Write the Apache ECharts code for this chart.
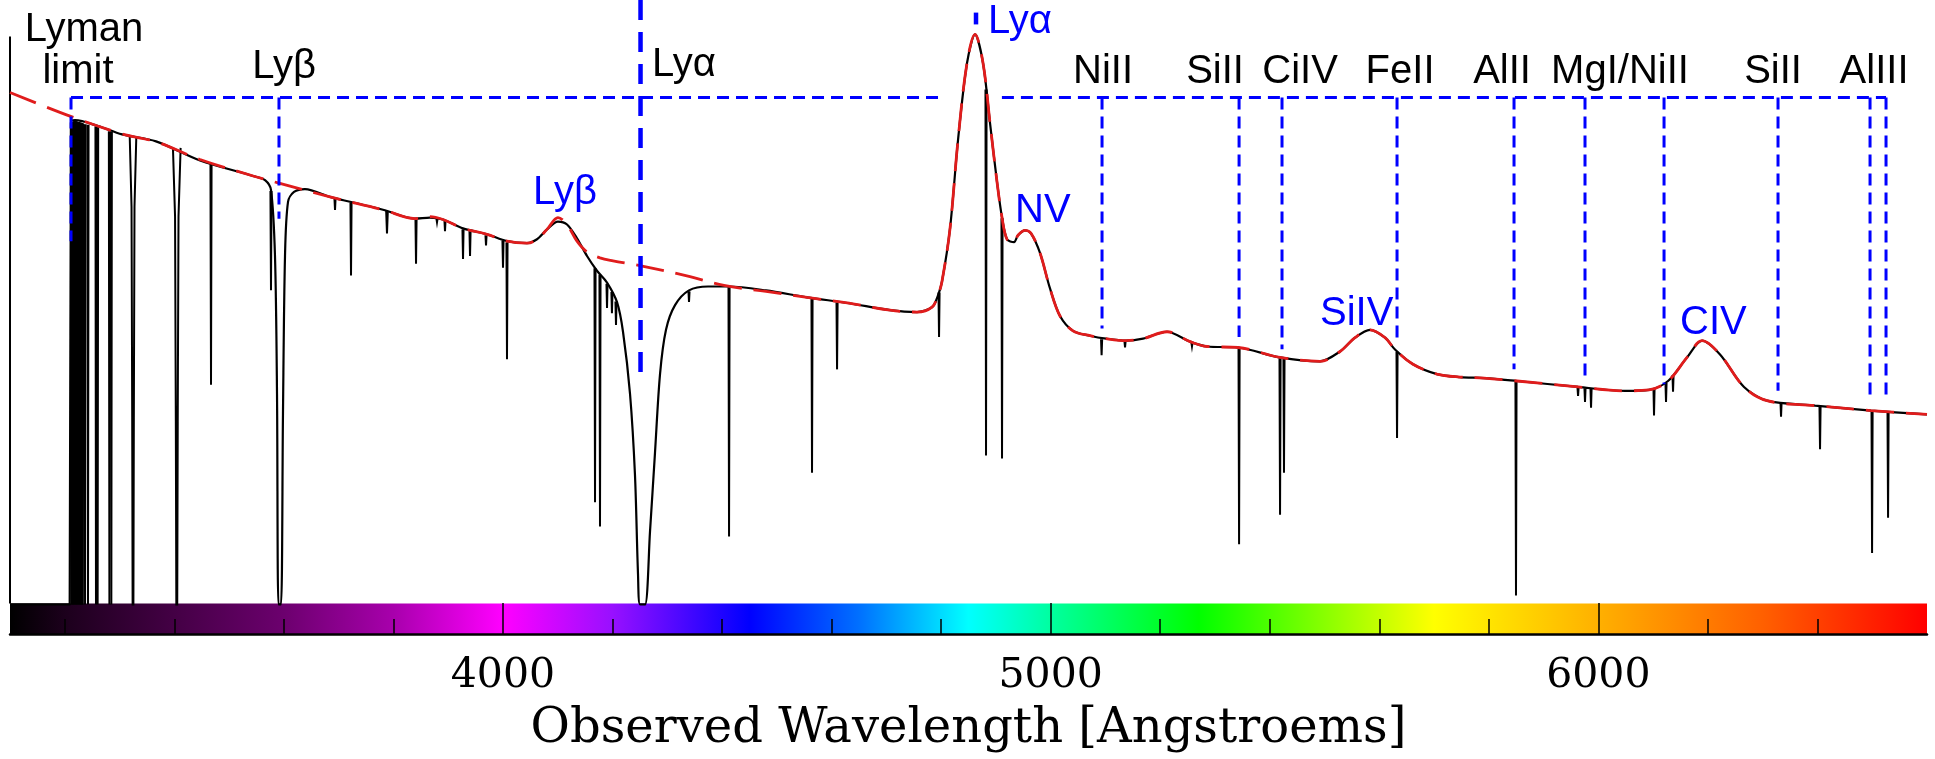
<!DOCTYPE html>
<html><head><meta charset="utf-8">
<script src="https://cdn.jsdelivr.net/npm/echarts@6/dist/echarts.min.js"></script>
<style>html,body{margin:0;padding:0;background:#fff}#c{width:1935px;height:759px}</style>
</head><body><div id="c"></div>
<script>
// ---------- axis / ticks ----------
const xTickMajor = [4000, 5000, 6000];
const xTickMinor = [3200, 3400, 3600, 3800, 4200, 4400, 4600, 4800, 5200, 5400, 5600, 5800, 6200, 6400];
const xTitle = 'Observed Wavelength [Angstroems]';

// ---------- continuum + emission model (red dashed) ----------
const modelW = [3100,3209.5,3304.5,3366.6,3446.9,3545.5,3591.1,3684.3,3781,3839.4,3866.8,3890.6,3927.1,3970.9,4007.4,4043.9,4062.2,4080.4,4100.5,4117,4135.2,4153.5,4177.2,4201,4252.1,4341.5,4403.6,4480.3,4555.2,4631.9,4706.7,4756,4783.4,4794.3,4801.6,4816.3,4830.9,4847.3,4861.9,4876.5,4889.3,4902.1,4911.2,4920.3,4933.1,4940.4,4953.2,4964.1,4980.6,4998.8,5017.1,5040.8,5071.9,5101.1,5137.6,5168.6,5212.5,5254.4,5285.5,5342.1,5418.8,5491.8,5528.3,5555.7,5583.1,5610.5,5628.7,5661.6,5705.4,5747.4,5791.2,5851.5,5962.9,6048.7,6092.5,6127.2,6161.9,6189.3,6222.1,6265.9,6307.9,6395.6,6497.8,6600];
const modelF = [86.67,82.67,79.67,78.33,75.33,72.5,71.33,69.0,66.83,65.33,65.67,65.17,63.67,62.67,61.5,61.17,61.83,63.5,65.5,64.33,61.5,59.67,58.67,58.17,57.33,55.5,54.0,53.0,52.0,51.0,49.83,49.5,50.33,52.33,54.67,63.67,78.67,91.67,96.5,91.67,81.5,71.5,65.5,61.83,61.33,62.5,63.33,62.83,59.5,53.5,48.83,46.33,45.5,45.0,44.67,45.0,46.17,44.5,43.67,43.5,41.83,41.17,42.83,45.17,46.5,45.17,43.17,40.67,39.0,38.5,38.33,37.83,36.83,36.17,36.33,37.83,41.83,44.67,42.33,36.83,34.5,33.67,32.83,32.17];

// ---------- observed spectrum, smooth part (black) ----------
const specW = [3100,3209,3211.5,3218.7,3260.7,3304.5,3366.6,3446.9,3545.5,3565.6,3576.5,3583.8,3587.5,3590.2,3594.8,3598.4,3602.1,3607.6,3618.5,3638.6,3684.3,3720.8,3781.0,3839.4,3866.8,3890.6,3927.1,3970.9,4007.4,4043.9,4062.2,4080.4,4100.5,4117.0,4135.2,4153.5,4171.7,4190.0,4208.3,4219.2,4232.0,4241.1,4246.6,4250.3,4259.4,4268.5,4277.6,4286.8,4297.7,4314.2,4339.7,4374.4,4412.8,4480.3,4555.2,4631.9,4706.7,4756,4783.4,4794.3,4801.6,4816.3,4830.9,4847.3,4861.9,4876.5,4889.3,4902.1,4911.2,4920.3,4933.1,4940.4,4953.2,4964.1,4980.6,4998.8,5017.1,5040.8,5071.9,5101.1,5137.6,5168.6,5212.5,5254.4,5285.5,5342.1,5418.8,5491.8,5528.3,5555.7,5583.1,5610.5,5628.7,5661.6,5705.4,5747.4,5791.2,5851.5,5962.9,6048.7,6092.5,6127.2,6161.9,6189.3,6222.1,6265.9,6307.9,6395.6,6497.8,6600];
const specF = [0,0,81.8,82.0,81.0,79.58,78.4,75.17,72.5,71.83,70.17,59.0,35.67,0,0,32.33,59.0,68.17,69.83,70.33,69.0,68.17,66.83,65.33,65.5,65.17,63.67,62.67,61.5,61.17,61.83,63.5,64.83,64.33,62.0,59.0,56.5,54.5,51.17,46.17,35.67,21.83,5.17,0,0,12.33,25.67,39.0,46.5,50.67,53.17,53.83,53.83,53.17,52.0,51.0,49.83,49.5,50.33,52.33,54.67,63.67,78.67,91.67,96.5,91.67,81.5,71.5,65.5,61.83,61.33,62.5,63.33,62.83,59.5,53.5,48.83,46.33,45.5,45.0,44.67,45.0,46.17,44.5,43.67,43.5,41.83,41.17,42.83,45.17,46.5,45.17,43.17,40.67,39.0,38.5,38.33,37.83,36.83,36.17,36.33,37.83,41.83,44.67,42.33,36.83,34.5,33.67,32.83,32.17];

// ---------- narrow absorption lines: centre, flux at top, flux at bottom, half width (A) ----------
const absW   = [3212,3213.5,3215,3216.5,3218,3219.5,3221,3222.5,3224,3225.5,3227,3228.5,3230,3231.5,3233,3237,3242.4,3257,3260,3281.5,3285,3324.6,3404.5,3467,3576.5,3693.4,3722.6,3788.3,3841.3,3879.6,3894.2,3927.1,3939.9,3969.1,4000.1,4007.4,4168.1,4177.2,4190,4199,4206.4,4339.7,4412.8,4564.3,4610,4796.2,4882,4911.2,5093,5135.8,5258,5344,5418.8,5426,5632.4,5849.6,5962.9,5975.6,5986.6,6101.6,6123.5,6136.3,6333.5,6404.7,6499.7,6528.9];
const absTop = [81.6,81.7,81.7,81.8,81.8,81.8,81.8,81.7,81.7,81.7,81.6,81.6,81.5,81.5,81.4,81.3,81.2,80.9,80.8,80.1,80.0,79.2,77.3,74.5,70.0,68.7,68.0,66.6,65.2,65.3,65.0,63.5,63.2,62.5,61.6,61.3,56.9,55.8,54.3,52.9,51.3,53.0,53.7,51.8,51.1,52.8,87.2,65.4,44.9,44.5,44.3,43.3,41.7,41.7,42.8,37.7,36.7,36.6,36.5,36.6,37.5,38.8,34.2,33.5,32.7,32.5];
const absBot = [0,0,0,0,0,0,0,0,0,0,0,0,0,0,0,0,0,0,0,0,0,0,0,37.2,53.2,66.8,55.7,62.8,57.7,64.7,63.2,58.5,59.0,60.8,57.0,41.5,17.3,13.2,50.2,49.3,47.3,51.2,11.5,22.3,39.8,45.3,25.2,24.7,42.2,43.5,43.7,10.2,15.2,22.3,28.2,1.5,35.3,34.3,33.3,32.0,34.3,36.0,31.8,26.3,8.7,14.7];
const absHalf = [1,1,1,1,1,1,1,1,1,1,1,1,1,1,1,1,1,1,1,1,1,6,7,1,1,1,1,1.5,1,1,1,1,1,1,1,1,1,1,1,1,1,1,1,1,1,1,1,1,1,1,1,1,1,1,1,1,1,1,1,1,1,1,1,1,1,1];

// ---------- marked transitions (blue dashed verticals): wavelength, top flux, bottom flux, heavy? ----------
const markW   = [3211.4,3591.1,4251.2,4863.7,5093.8,5344,5422.4,5632.4,5846,5975.6,6119.9,6328,6496,6525.2];
const markTop = [85.83,85.83,102.33,100.2,85.83,85.83,85.83,85.83,85.83,85.83,85.83,85.83,85.83,85.83];
const markBot = [61.5,65.3,37.5,98.2,46.7,45.3,43.2,45.2,39.8,37.8,37.3,36.2,34.8,34.8];
const markHeavy = [0,0,1,1,0,0,0,0,0,0,0,0,0,0];
// horizontal dashed guide: start, end wavelengths and flux level
const guideStart = [3211.4, 4911];
const guideEnd   = [4805, 6525.2];
const guideF = 85.83;

// ---------- labels ----------
const absLabels = ['Lyman','limit','Lyβ','Lyα','NiII','SiII','CiIV','FeII','AlII','MgI/NiII','SiII','AlIII'];
const absLabelW = [3235.1,3224.2,3600.3,4272.2,5095.6,5300.1,5455.3,5637.9,5824.1,6039.5,6318.9,6503.3];
const absLabelF = [94.83,87.83,88.67,89.0,87.83,87.83,87.83,87.83,87.83,87.83,87.83,87.83];
const absLabelAlign = ['center','center','center','left','center','center','center','center','center','center','center','center'];
const emLabels = ['Lyα','Lyβ','NV','SiIV','CIV'];
const emLabelW = [4885.6,4113.3,4934.9,5491.8,6149.1];
const emLabelF = [96.17,67.33,64.33,46.83,45.33];
const emLabelAlign = ['left','center','left','left','left'];

// ---------- colour strip (wavelength -> colour) ----------
const stripW = [3100,3200,3600,3800,4000,4200,4450,4650,4850,5000,5270,5700,6000,6300,6600];
const stripC = ['#000000','#1c001c','#6c006e','#a800ac','#ff00ff','#9810ff','#0000ff','#0070ff','#00ffff','#00ffa0','#00ff00','#ffff00','#ffb000','#ff6000','#ff0000'];

const xMin = 3100, xMax = 6600, yMin = -5, yMax = 102.3333;
const BLUE = '#0000ff', RED = '#e01c1c';

const chart = echarts.init(document.getElementById('c'), null, {renderer: 'canvas'});
const stops = stripW.map((w, i) => ({offset: (w - xMin) / (xMax - xMin), color: stripC[i]}));

const option = {
  animation: false,
  backgroundColor: '#ffffff',
  grid: {left: 10, right: 8, top: 0, bottom: 115, containLabel: false},
  xAxis: [{
    type: 'value', min: xMin, max: xMax, position: 'bottom', z: 10,
    axisLine: {show: true, onZero: false, lineStyle: {color: '#000', width: 2.5}},
    axisTick: {show: true, inside: true, length: 31, lineStyle: {color: '#000', width: 1.5}, customValues: xTickMajor},
    axisLabel: {show: true, customValues: xTickMajor, margin: 22, color: '#000', fontFamily: 'DejaVu Serif', fontSize: 41,
      formatter: function (v) { return String(v); }},
    splitLine: {show: false},
    name: xTitle, nameLocation: 'middle', nameGap: 72, nameMoveOverlap: false,
    nameTextStyle: {fontFamily: 'DejaVu Serif', fontSize: 48, color: '#000'}
  }, {
    type: 'value', min: xMin, max: xMax, position: 'bottom', gridIndex: 0, z: 10,
    axisLine: {show: false, onZero: false},
    axisTick: {show: true, inside: true, length: 15, lineStyle: {color: '#000', width: 1.5}, customValues: xTickMinor},
    axisLabel: {show: false}, splitLine: {show: false}
  }],
  yAxis: {type: 'value', min: yMin, max: yMax, show: false, splitLine: {show: false}},
  series: [
    { // colour strip
      type: 'custom', z: 1, clip: false, silent: true,
      data: [[xMin, 0]],
      renderItem: function (params, api) {
        const p0 = api.coord([xMin, 0.17]);
        const p1 = api.coord([xMax, yMin]);
        return {type: 'rect', shape: {x: p0[0], y: p0[1], width: p1[0] - p0[0], height: p1[1] - p0[1]},
          style: {fill: new echarts.graphic.LinearGradient(0, 0, 1, 0, stops)}};
      }
    },
    { // left frame line
      type: 'line', z: 2, clip: false, symbol: 'none', silent: true,
      data: [[xMin, 96.17], [xMin, 0.17]],
      lineStyle: {color: '#000', width: 2}
    },
    { // observed spectrum
      type: 'line', z: 3, symbol: 'none', smooth: 0.3, clip: false,
      data: specW.map((w, i) => [w, specF[i]]),
      lineStyle: {color: '#000', width: 2.2}
    },
    { // absorption lines
      type: 'custom', z: 4, clip: false,
      data: absW.map((w, i) => [w, absTop[i], absBot[i], absHalf[i]]),
      renderItem: function (params, api) {
        const w = api.value(0), t = api.value(1), b = api.value(2), h = api.value(3);
        const d = t - b;
        const fr = [[-1, 0], [-0.45, 0.15], [-0.25, 0.6], [-0.12, 1], [0.12, 1], [0.25, 0.6], [0.45, 0.15], [1, 0]];
        const pts = h > 1.5 ? fr.map(f => api.coord([w + f[0] * h, t - f[1] * d]))
                            : [api.coord([w - h, t]), api.coord([w, b]), api.coord([w + h, t])];
        return {type: 'polyline', shape: {points: pts}, style: {stroke: '#000', lineWidth: 2, fill: null}};
      }
    },
    { // model continuum
      type: 'line', z: 5, symbol: 'none', smooth: 0.35,
      data: modelW.map((w, i) => [w, modelF[i]]),
      lineStyle: {color: RED, width: 2.8, type: [28, 12]}
    },
    { // horizontal guide
      type: 'custom', z: 6, clip: false,
      data: guideStart.map((w, i) => [w, guideEnd[i], guideF]),
      renderItem: function (params, api) {
        const a = api.coord([api.value(0), api.value(2)]);
        const b = api.coord([api.value(1), api.value(2)]);
        return {type: 'line', shape: {x1: a[0], y1: a[1], x2: b[0], y2: b[1]},
          style: {stroke: BLUE, lineWidth: 3, lineDash: [12, 7]}};
      }
    },
    { // vertical markers
      type: 'custom', z: 7, clip: false,
      data: markW.map((w, i) => [w, markTop[i], markBot[i], markHeavy[i]]),
      renderItem: function (params, api) {
        const a = api.coord([api.value(0), api.value(1)]);
        const b = api.coord([api.value(0), api.value(2)]);
        const heavy = api.value(3) > 0;
        return {type: 'line', shape: {x1: a[0], y1: a[1], x2: b[0], y2: b[1]},
          style: {stroke: BLUE, lineWidth: heavy ? 4.5 : 3, lineDash: heavy ? [20, 12] : [12, 7]}};
      }
    }
  ]
};
chart.setOption(option);

function px(w, f) { return chart.convertToPixel({xAxisIndex: 0, yAxisIndex: 0}, [w, f]); }
const gfx = [];
absLabels.forEach((t, i) => {
  const p = px(absLabelW[i], absLabelF[i]);
  gfx.push({type: 'text', x: p[0], y: p[1] - 14, z: 10,
    style: {text: t, fill: '#000', font: '40px "Liberation Sans", Arial, sans-serif', align: absLabelAlign[i], verticalAlign: 'middle'}});
});
emLabels.forEach((t, i) => {
  const p = px(emLabelW[i], emLabelF[i]);
  gfx.push({type: 'text', x: p[0], y: p[1] - 14, z: 10,
    style: {text: t, fill: BLUE, font: '40px "Liberation Sans", Arial, sans-serif', align: emLabelAlign[i], verticalAlign: 'middle'}});
});
chart.setOption({graphic: gfx});
</script>
</body></html>
